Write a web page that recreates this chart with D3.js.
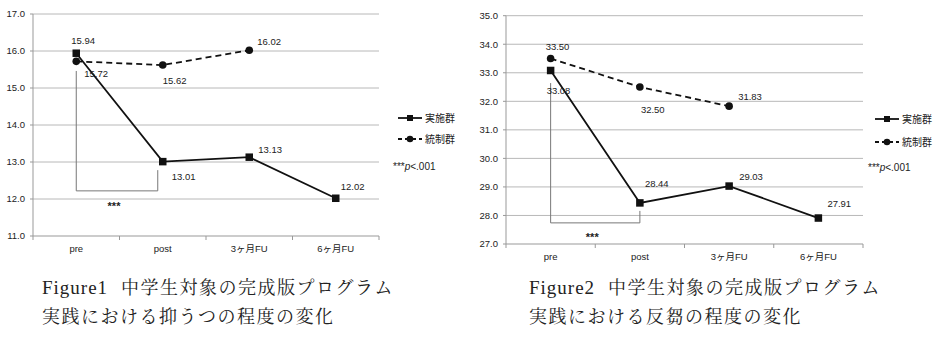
<!DOCTYPE html>
<html>
<head>
<meta charset="utf-8">
<script src="https://cdn.jsdelivr.net/npm/d3@7"></script>
<style>
  body { margin: 0; background: #fff; }
  svg { display: block; }
  .tick-label, .data-label, .legend-text { font-family: "Liberation Sans", Arial, "Noto Sans CJK JP", sans-serif; font-size: 9.5px; fill: #222; }
  .legend-text { font-size: 10px; }
  .stars { font-family: "Liberation Sans", Arial, sans-serif; font-size: 11px; font-weight: bold; fill: #222; }
  .caption { font-family: "Liberation Serif", "Noto Serif CJK JP", "Noto Sans CJK JP", serif; font-size: 18px; fill: #222; letter-spacing: 1.5px; }
  .caption .latin { font-size: 19px; letter-spacing: 1px; }
</style>
</head>
<body>
<div id="chart"></div>
<script>
const categories = ['pre', 'post', '3ヶ月FU', '6ヶ月FU'];
const depTreat = [15.94, 13.01, 13.13, 12.02];
const depCtrl = [15.72, 15.62, 16.02];
const hosTreat = [33.08, 28.44, 29.03, 27.91];
const hosCtrl = [33.50, 32.50, 31.83];
const depTicks = [11, 12, 13, 14, 15, 16, 17];
const hosTicks = [27, 28, 29, 30, 31, 32, 33, 34, 35];
const seriesNames = ['実施群', '統制群'];

const W = 945, H = 342;
const svg = d3.select('#chart').append('svg').attr('width', W).attr('height', H);

const charts = [
  {
    treat: depTreat, ctrl: depCtrl, ticks: depTicks,
    x0: 33, x1: 379, yTop: 14, yBot: 236, catY: 249,
    treatOff: [[-5, -13], [9, 15], [9, -7], [5, -12]],
    ctrlOff: [[8, 12], [0, 16], [8, -9]],
    bracket: { top: 15.46, bottom: 12.22, rightTop: 12.78, rightShift: -5, starsY: 204 },
    legendX: 398, legendY: [118, 139], pX: 393, pY: 166,
    capX: 42, figure: 'Figure1', caption: ['中学生対象の完成版プログラム', '実践における抑うつの程度の変化'],
  },
  {
    treat: hosTreat, ctrl: hosCtrl, ticks: hosTicks,
    x0: 506, x1: 863, yTop: 15.7, yBot: 244, catY: 257,
    treatOff: [[-4, 20], [5, -19], [10, -9], [9, -14]],
    ctrlOff: [[-5, -12], [1, 23], [9, -9]],
    bracket: { top: 32.64, bottom: 27.74, rightTop: 28.16, rightShift: 0, starsY: 235 },
    legendX: 875, legendY: [119, 142], pX: 868, pY: 167,
    capX: 529, figure: 'Figure2', caption: ['中学生対象の完成版プログラム', '実践における反芻の程度の変化'],
  },
];

function drawSquare(g, x, y, s) {
  g.append('rect')
    .attr('x', x - s / 2).attr('y', y - s / 2)
    .attr('width', s).attr('height', s)
    .attr('fill', '#111');
}

function drawCircle(g, x, y, r) {
  g.append('circle').attr('cx', x).attr('cy', y).attr('r', r).attr('fill', '#111');
}

charts.forEach((c) => {
  const g = svg.append('g');
  const x = d3.scaleBand().domain(categories).range([c.x0, c.x1]);
  const y = d3.scaleLinear()
    .domain([d3.min(c.ticks), d3.max(c.ticks)])
    .range([c.yBot, c.yTop]);
  const cx = d => x(d) + x.bandwidth() / 2;

  // gridlines
  g.selectAll('.grid')
    .data(c.ticks.slice(1))
    .enter()
    .append('line')
    .attr('x1', c.x0).attr('x2', c.x1)
    .attr('y1', d => y(d)).attr('y2', d => y(d))
    .attr('stroke', '#b8b8b8').attr('stroke-width', 1);

  // y axis
  g.append('line')
    .attr('x1', c.x0).attr('x2', c.x0)
    .attr('y1', c.yTop).attr('y2', c.yBot)
    .attr('stroke', '#999');
  g.selectAll('.ytick')
    .data(c.ticks)
    .enter()
    .append('line')
    .attr('x1', c.x0 - 3).attr('x2', c.x0)
    .attr('y1', d => y(d)).attr('y2', d => y(d))
    .attr('stroke', '#999');
  g.selectAll('.ylabel')
    .data(c.ticks)
    .enter()
    .append('text')
    .attr('class', 'tick-label')
    .attr('text-anchor', 'end')
    .attr('x', c.x0 - 8)
    .attr('y', d => y(d) + 3.3)
    .text(d => d.toFixed(1));

  // x axis
  g.append('line')
    .attr('x1', c.x0).attr('x2', c.x1)
    .attr('y1', c.yBot).attr('y2', c.yBot)
    .attr('stroke', '#999');
  const bounds = categories.map(d => x(d)).concat([c.x1]);
  g.selectAll('.xtick')
    .data(bounds)
    .enter()
    .append('line')
    .attr('x1', d => d).attr('x2', d => d)
    .attr('y1', c.yBot).attr('y2', c.yBot + 4)
    .attr('stroke', '#999');
  g.selectAll('.xlabel')
    .data(categories)
    .enter()
    .append('text')
    .attr('class', 'tick-label')
    .attr('text-anchor', 'middle')
    .attr('x', d => cx(d))
    .attr('y', c.catY + 3.3)
    .text(d => d);

  // significance bracket
  const b = c.bracket;
  const bx0 = cx(categories[0]);
  const bx1 = cx(categories[1]) + b.rightShift;
  g.append('path')
    .attr('d', `M${bx0},${y(b.top)}V${y(b.bottom)}H${bx1}V${y(b.rightTop)}`)
    .attr('fill', 'none')
    .attr('stroke', '#777')
    .attr('stroke-width', 1);
  g.append('text')
    .attr('class', 'stars')
    .attr('text-anchor', 'middle')
    .attr('x', (bx0 + bx1) / 2 - 3)
    .attr('y', b.starsY + 5.5)
    .text('***');

  // lines
  const line = d3.line().x((d, i) => cx(categories[i])).y(d => y(d));
  g.append('path')
    .attr('d', line(c.ctrl))
    .attr('fill', 'none').attr('stroke', '#111')
    .attr('stroke-width', 1.8)
    .attr('stroke-dasharray', '6,4');
  g.append('path')
    .attr('d', line(c.treat))
    .attr('fill', 'none').attr('stroke', '#111')
    .attr('stroke-width', 1.8);

  c.ctrl.forEach((v, i) => drawCircle(g, cx(categories[i]), y(v), 3.8));
  c.treat.forEach((v, i) => drawSquare(g, cx(categories[i]), y(v), 7.5));

  // data labels
  c.treat.forEach((v, i) => {
    g.append('text')
      .attr('class', 'data-label')
      .attr('x', cx(categories[i]) + c.treatOff[i][0])
      .attr('y', y(v) + c.treatOff[i][1] + 3.3)
      .text(v.toFixed(2));
  });
  c.ctrl.forEach((v, i) => {
    g.append('text')
      .attr('class', 'data-label')
      .attr('x', cx(categories[i]) + c.ctrlOff[i][0])
      .attr('y', y(v) + c.ctrlOff[i][1] + 3.3)
      .text(v.toFixed(2));
  });

  // legend
  const lx = c.legendX;
  const ly0 = c.legendY[0];
  const ly1 = c.legendY[1];
  g.append('line')
    .attr('x1', lx).attr('x2', lx + 24)
    .attr('y1', ly0).attr('y2', ly0)
    .attr('stroke', '#111').attr('stroke-width', 1.8);
  drawSquare(g, lx + 12, ly0, 6);
  g.append('line')
    .attr('x1', lx).attr('x2', lx + 24)
    .attr('y1', ly1).attr('y2', ly1)
    .attr('stroke', '#111').attr('stroke-width', 1.8)
    .attr('stroke-dasharray', '4,3');
  drawCircle(g, lx + 12, ly1, 3.3);
  seriesNames.forEach((name, i) => {
    g.append('text')
      .attr('class', 'legend-text')
      .attr('x', lx + 27)
      .attr('y', c.legendY[i] + 3.5)
      .text(name);
  });
  const pt = g.append('text')
    .attr('class', 'legend-text')
    .attr('x', c.pX)
    .attr('y', c.pY + 3.5);
  pt.append('tspan').text('***');
  pt.append('tspan').attr('font-style', 'italic').text('p');
  pt.append('tspan').text('<.001');

  // caption
  const cap1 = svg.append('text')
    .attr('class', 'caption')
    .attr('x', c.capX)
    .attr('y', 294);
  cap1.append('tspan').attr('class', 'latin').text(c.figure);
  cap1.append('tspan').attr('dx', 13).text(c.caption[0]);
  svg.append('text')
    .attr('class', 'caption')
    .attr('x', c.capX)
    .attr('y', 323)
    .text(c.caption[1]);
});
</script>
</body>
</html>
